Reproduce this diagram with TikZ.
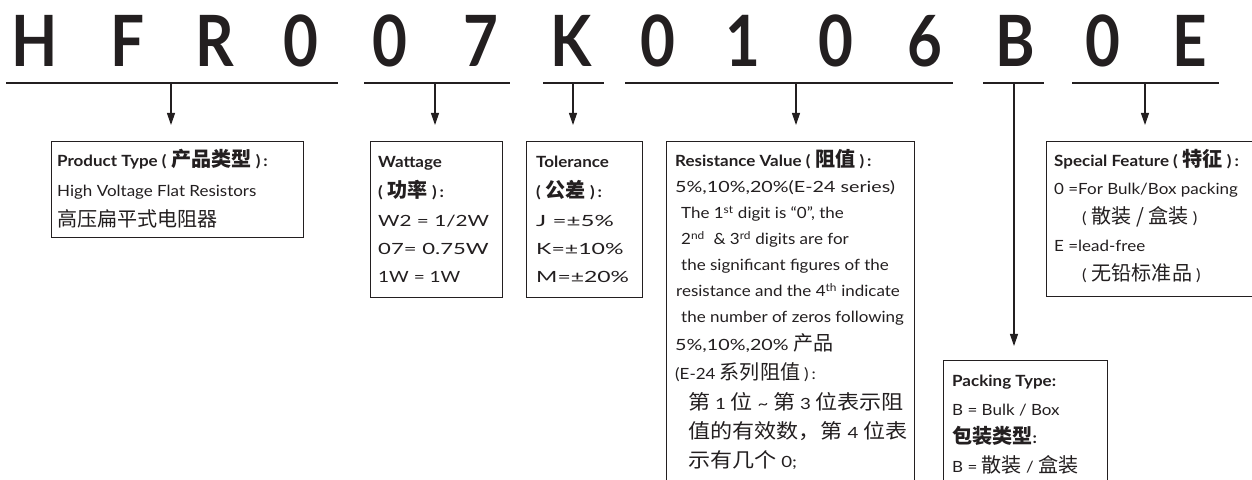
\documentclass[tikz,border=0pt]{standalone}
\usepackage{fontspec}
\usepackage{graphicx}
\setmainfont{Lato}[FakeStretch=1.1]
\newfontfamily\titlef{Lato}[FakeStretch=0.85]
\newfontfamily\cjk{Noto Sans CJK SC}[Scale=1.3]
\usetikzlibrary{arrows.meta}
\definecolor{ink}{HTML}{231F20}
\newcommand\hx[2]{\scalebox{#1}[1]{#2}}
\newcommand\pcj[1]{(\hspace{5bp}{\cjk #1}\hspace{4bp})}
\newcommand\hcj[1]{\pcj{#1}\hspace{3bp}:}
\begin{document}
\begin{tikzpicture}[x=1bp,y=-1bp,
  codech/.style={font=\titlef\bfseries\fontsize{71}{71}\selectfont, text=ink, anchor=base, inner sep=0pt},
  uline/.style={line width=1.6bp, draw=ink},
  arr/.style={line width=1.1bp, draw=ink, -{Triangle[length=12bp,width=8bp]}},
  box/.style={draw=ink, line width=0.9bp, anchor=north west, inner sep=0pt},
  txt/.style={anchor=base west, inner sep=0pt, text=ink, font=\fontsize{15.5}{18}\selectfont},
  hd/.style={txt, font=\fontsize{15.5}{18}\selectfont\bfseries}]
\useasboundingbox (0,0) rectangle (1252,480);
\clip (0,0) rectangle (1252,480);
\fill[white] (0,0) rectangle (1252,480);

% code letters
\node[codech] (c1) at (35,66.5) {H};
\node[codech] (c2) at (128,66.5) {F};
\node[codech] (c3) at (215,66.5) {R};
\node[codech] (c4) at (301,66.5) {0};
\node[codech] (c5) at (390,66.5) {0};
\node[codech] (c6) at (481,66.5) {7};
\node[codech] (c7) at (571,66.5) {K};
\node[codech] (c8) at (658,66.5) {0};
\node[codech] (c9) at (743,66.5) {1};
\node[codech] (c10) at (836,66.5) {0};
\node[codech] (c11) at (925,66.5) {6};
\node[codech] (c12) at (1015,66.5) {B};
\node[codech] (c13) at (1103,66.5) {0};
\node[codech] (c14) at (1190,66.5) {E};

% underlines
\coordinate (u1a) at (6,83);    \coordinate (u1b) at (338,83);
\coordinate (u2a) at (364,83);  \coordinate (u2b) at (510,83);
\coordinate (u3a) at (543,83);  \coordinate (u3b) at (604,83);
\coordinate (u4a) at (625,83);  \coordinate (u4b) at (953,83);
\coordinate (u5a) at (983,83);  \coordinate (u5b) at (1044,83);
\coordinate (u6a) at (1072,83); \coordinate (u6b) at (1219,83);
\foreach \i in {1,...,6} {\draw[uline] (u\i a) -- (u\i b);}

% stems
\coordinate (s1) at (171,83);
\coordinate (s2) at (435,83);
\coordinate (s3) at (573,83);
\coordinate (s4) at (796,83);
\coordinate (s5) at (1014,83);
\coordinate (s6) at (1145,83);

% boxes
\node[box, minimum width=252bp, minimum height=96bp] (bpt) at (51,141) {};
\node[box, minimum width=132bp, minimum height=156bp] (bw) at (370,141) {};
\node[box, minimum width=116bp, minimum height=156bp] (bt) at (526,141) {};
\node[box, minimum width=248bp, minimum height=360bp] (br) at (666,141) {};
\node[box, minimum width=164bp, minimum height=140bp] (bp) at (943,360) {};
\node[box, minimum width=220bp, minimum height=155bp] (bs) at (1046,141) {};

% arrows
\draw[arr, shorten >=16bp] (s1) -- (s1 |- bpt.north);
\draw[arr, shorten >=16bp] (s2) -- (s2 |- bw.north);
\draw[arr, shorten >=16bp] (s3) -- (s3 |- bt.north);
\draw[arr, shorten >=16bp] (s4) -- (s4 |- br.north);
\draw[arr, shorten >=14bp] (s5) -- (s5 |- bp.north);
\draw[arr, shorten >=16bp] (s6) -- (s6 |- bs.north);

% product type
\node[hd]  (p1) at (57,167) {Product Type \hcj{产品类型}};
\node[txt] (p2) at (57,197) {High Voltage Flat Resistors};
\node[txt] (p3) at (57,227) {\cjk 高压扁平式电阻器};

% wattage
\node[hd]  (w1) at (378,168) {Wattage};
\node[hd]  (w2) at (378,198) {\hcj{功率}};
\node[txt] (w3) at (378,227) {\hx{1.22}{W2 = 1/2W}};
\node[txt] (w4) at (378,255) {\hx{1.3}{07= 0.75W}};
\node[txt] (w5) at (378,283) {\hx{1.12}{1W = 1W}};

% tolerance
\node[hd]  (t1) at (536,168) {Tolerance};
\node[hd]  (t2) at (536,198) {\hcj{公差}};
\node[txt] (t3) at (536,227) {\hx{1.42}{J =±5\%}};
\node[txt] (t4) at (536,255) {\hx{1.36}{K=±10\%}};
\node[txt] (t5) at (536,283) {\hx{1.35}{M=±20\%}};

% resistance
\node[hd]  (r1) at (675,167) {Resistance Value \hcj{阻值}};
\node[txt] (r2) at (675,193) {\hx{1.16}{5\%,10\%,20\%(E-24 series)}};
\node[txt] (r3) at (681,219) {The 1\textsuperscript{st} digit is “0”, the};
\node[txt] (r4) at (681,245) {2\textsuperscript{nd}\ \ \& 3\textsuperscript{rd} digits are for};
\node[txt] (r5) at (681,271) {the significant figures of the};
\node[txt] (r6) at (676,297) {resistance and the 4\textsuperscript{th} indicate};
\node[txt] (r7) at (681,323) {the number of zeros following};
\node[txt] (r8) at (675,351) {\hx{1.16}{5\%,10\%,20\%} {\cjk 产品}};
\node[txt] (r9) at (675,380) {(E-24 {\cjk 系列阻值}\hspace{4bp})\hspace{3bp}:};
\node[txt] (r10) at (688,409) {\hx{1.1}{{\cjk 第} 1 {\cjk 位} \textasciitilde{} {\cjk 第} 3 {\cjk 位表示阻}}};
\node[txt] (r11) at (688,438) {\hx{1.1}{{\cjk 值的有效数，第} 4 {\cjk 位表}}};
\node[txt] (r12) at (688,467) {\hx{1.1}{{\cjk 示有几个} 0;}};

% special feature
\node[hd]  (f1) at (1054,167) {Special Feature \hcj{特征}};
\node[txt] (f2) at (1054,195) {0 =For Bulk/Box packing};
\node[txt] (f3) at (1082,224) {\pcj{散装 / 盒装}};
\node[txt] (f4) at (1054,252) {E =lead-free};
\node[txt] (f5) at (1082,281) {\pcj{无铅标准品}};

% packing
\node[hd]  (k1) at (952,387) {Packing Type:};
\node[txt] (k2) at (952,415) {B = Bulk / Box};
\node[hd]  (k3) at (952,443) {{\cjk 包装类型}:};
\node[txt] (k4) at (952,472) {B = {\cjk 散装} / {\cjk 盒装}};
\end{tikzpicture}
\end{document}
